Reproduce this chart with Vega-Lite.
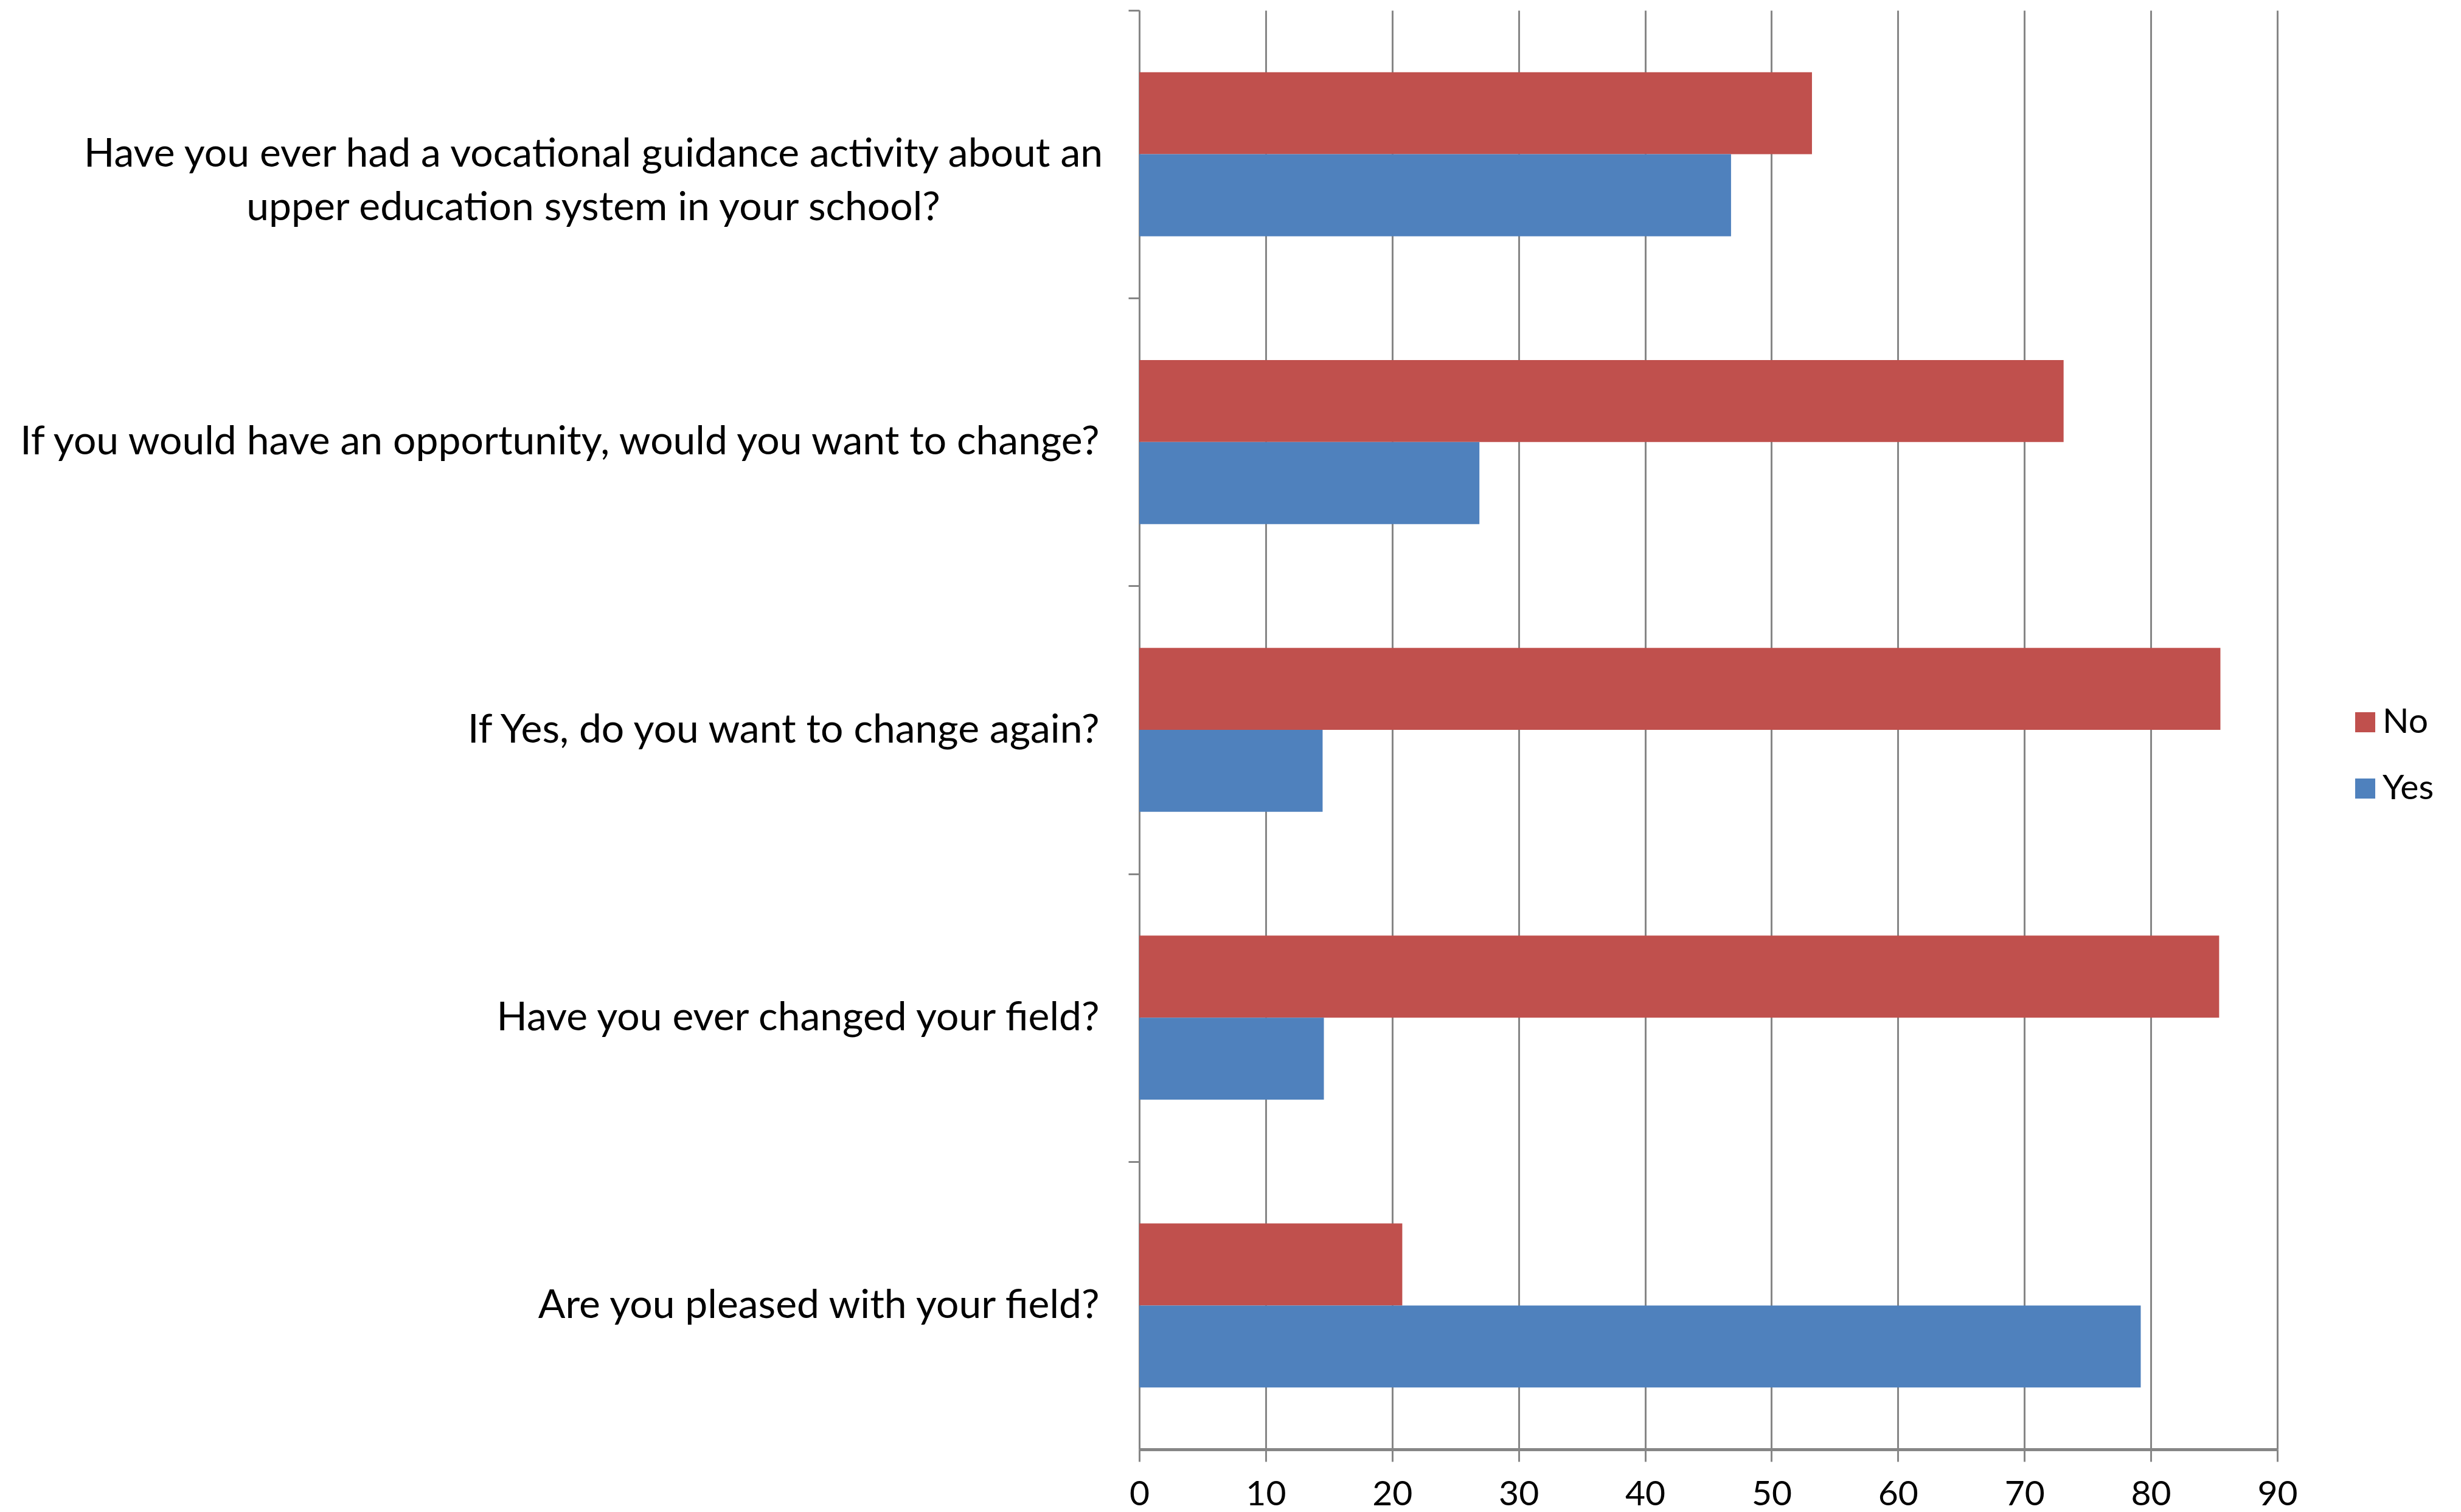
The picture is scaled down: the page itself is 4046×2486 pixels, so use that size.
{
  "$schema": "https://vega.github.io/schema/vega-lite/v6.json",
  "autosize": {"type": "none"},
  "width": 1871,
  "height": 2366,
  "padding": {"left": 1873, "top": 17, "right": 302, "bottom": 103},
  "background": "white",
  "config": {"view": {"stroke": null}, "font": "Lato"},
  "data": {
    "values": [
      {"question": "Have you ever had a vocational guidance activity about an|upper education system in your school?", "answer": "No", "percent": 53.2},
      {"question": "Have you ever had a vocational guidance activity about an|upper education system in your school?", "answer": "Yes", "percent": 46.8},
      {"question": "If you would have an opportunity, would you want to change?", "answer": "No", "percent": 73.1},
      {"question": "If you would have an opportunity, would you want to change?", "answer": "Yes", "percent": 26.9},
      {"question": "If Yes, do you want to change again?", "answer": "No", "percent": 85.5},
      {"question": "If Yes, do you want to change again?", "answer": "Yes", "percent": 14.5},
      {"question": "Have you ever changed your field?", "answer": "No", "percent": 85.4},
      {"question": "Have you ever changed your field?", "answer": "Yes", "percent": 14.6},
      {"question": "Are you pleased with your field?", "answer": "No", "percent": 20.8},
      {"question": "Are you pleased with your field?", "answer": "Yes", "percent": 79.2}
    ]
  },
  "mark": {"type": "bar"},
  "encoding": {
    "y": {
      "field": "question",
      "type": "nominal",
      "sort": [
        "Have you ever had a vocational guidance activity about an|upper education system in your school?",
        "If you would have an opportunity, would you want to change?",
        "If Yes, do you want to change again?",
        "Have you ever changed your field?",
        "Are you pleased with your field?"
      ],
      "scale": {"paddingInner": 0.43, "paddingOuter": 0.215},
      "axis": {
        "title": null,
        "domainColor": "#868686",
        "domainWidth": 3,
        "tickColor": "#868686",
        "tickWidth": 3,
        "tickSize": 18,
        "tickOffset": -236.6,
        "labelOffset": 236.6,
        "labelFontSize": 66,
        "labelColor": "black",
        "labelLimit": 0,
        "labelLineHeight": 88,
        "labelExpr": "isString(datum.value) ? split(datum.value, '|') : ''",
        "labelAlign": {"condition": {"test": "isString(datum.value) && indexof(datum.value, '|') >= 0", "value": "center"}, "value": "right"},
        "labelPadding": {"condition": {"test": "isString(datum.value) && indexof(datum.value, '|') >= 0", "value": 880}, "value": 48}
      }
    },
    "yOffset": {"field": "answer", "type": "nominal", "sort": ["No", "Yes"]},
    "x": {
      "field": "percent",
      "type": "quantitative",
      "scale": {"domain": [0, 90]},
      "axis": {
        "title": null,
        "values": [0, 10, 20, 30, 40, 50, 60, 70, 80, 90],
        "grid": true,
        "gridColor": "#868686",
        "gridWidth": 3,
        "domainColor": "#868686",
        "domainWidth": 5,
        "tickColor": "#868686",
        "tickWidth": 3,
        "tickSize": 20,
        "labelFontSize": 57,
        "labelPadding": 26,
        "labelColor": "black",
        "labelFlush": false
      }
    },
    "color": {
      "field": "answer",
      "type": "nominal",
      "scale": {"domain": ["No", "Yes"], "range": ["#C0504D", "#4F81BD"]},
      "legend": {
        "orient": "none",
        "legendX": 1987,
        "legendY": 1142,
        "title": null,
        "symbolType": "square",
        "symbolSize": 1089,
        "symbolStrokeWidth": 0,
        "labelFontSize": 57,
        "labelColor": "black",
        "rowPadding": 51,
        "labelOffset": 0,
        "padding": 0
      }
    }
  }
}
